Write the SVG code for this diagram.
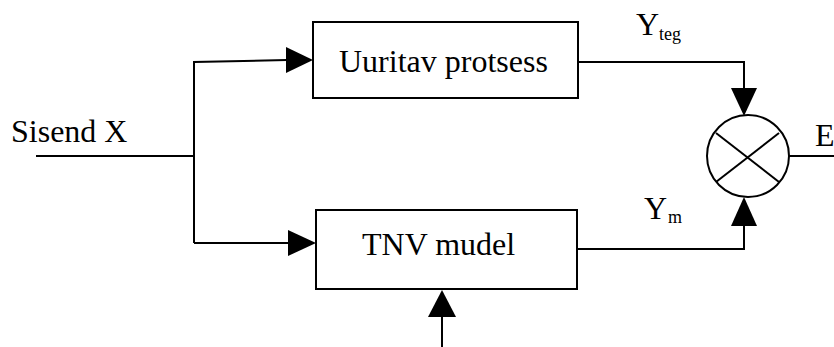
<svg xmlns="http://www.w3.org/2000/svg" width="834" height="347" viewBox="0 0 834 347">
<style>
.ln{fill:none;stroke:#000;stroke-width:2}
.box{fill:#fff;stroke:#000;stroke-width:2}
.ah{fill:#000;stroke:none}
.t{font-size:32px;fill:#000}
.s{font-size:18px;fill:#000}
</style>
<rect width="834" height="347" fill="#fff"/>
<g id="connectors">
<polyline class="ln" points="36,156 194,156"/>
<polyline class="ln" points="194,243 194,62 287,60"/>
<polygon class="ah" points="313,60 286,47 286,73"/>
<polyline class="ln" points="194,243 289,243"/>
<polygon class="ah" points="316,243 288,230 288,256"/>
<polyline class="ln" points="578,62 744,62 744,90"/>
<polygon class="ah" points="744,116 731,88 757,88"/>
<polyline class="ln" points="577,249 744,249 744,224"/>
<polygon class="ah" points="744,197 731,226 757,226"/>
<polyline class="ln" points="442,347 442,315"/>
<polygon class="ah" points="442,290 428,317 456,317"/>
<polyline class="ln" points="789,156 834,156"/>
</g>
<g id="uuritav" font-family="'Liberation Serif', 'DejaVu Serif', serif">
<rect class="box" x="313" y="22" width="265" height="76"/>
<text class="t" x="339" y="72" font-family="'Liberation Serif', 'DejaVu Serif', serif">Uuritav protsess</text>
</g>
<g id="tnv">
<rect class="box" x="316" y="210" width="261" height="79"/>
<text class="t" x="362" y="255" font-family="'Liberation Serif', 'DejaVu Serif', serif">TNV mudel</text>
</g>
<g id="summer">
<circle class="box" cx="748" cy="156" r="41"/>
<line class="ln" x1="716" y1="133" x2="779" y2="182"/>
<line class="ln" x1="779" y1="133" x2="716" y2="182"/>
</g>
<g id="labels" font-family="'Liberation Serif', 'DejaVu Serif', serif">
<text class="t" x="11" y="142" font-family="'Liberation Serif', 'DejaVu Serif', serif">Sisend X</text>
<text class="t" x="815" y="146" font-family="'Liberation Serif', 'DejaVu Serif', serif">E</text>
<text class="t" x="636" y="35" font-family="'Liberation Serif', 'DejaVu Serif', serif">Y</text>
<text class="s" x="659" y="40" font-family="'Liberation Serif', 'DejaVu Serif', serif">teg</text>
<text class="t" x="644" y="219" font-family="'Liberation Serif', 'DejaVu Serif', serif">Y</text>
<text class="s" x="668" y="223" font-family="'Liberation Serif', 'DejaVu Serif', serif">m</text>
</g>
</svg>
